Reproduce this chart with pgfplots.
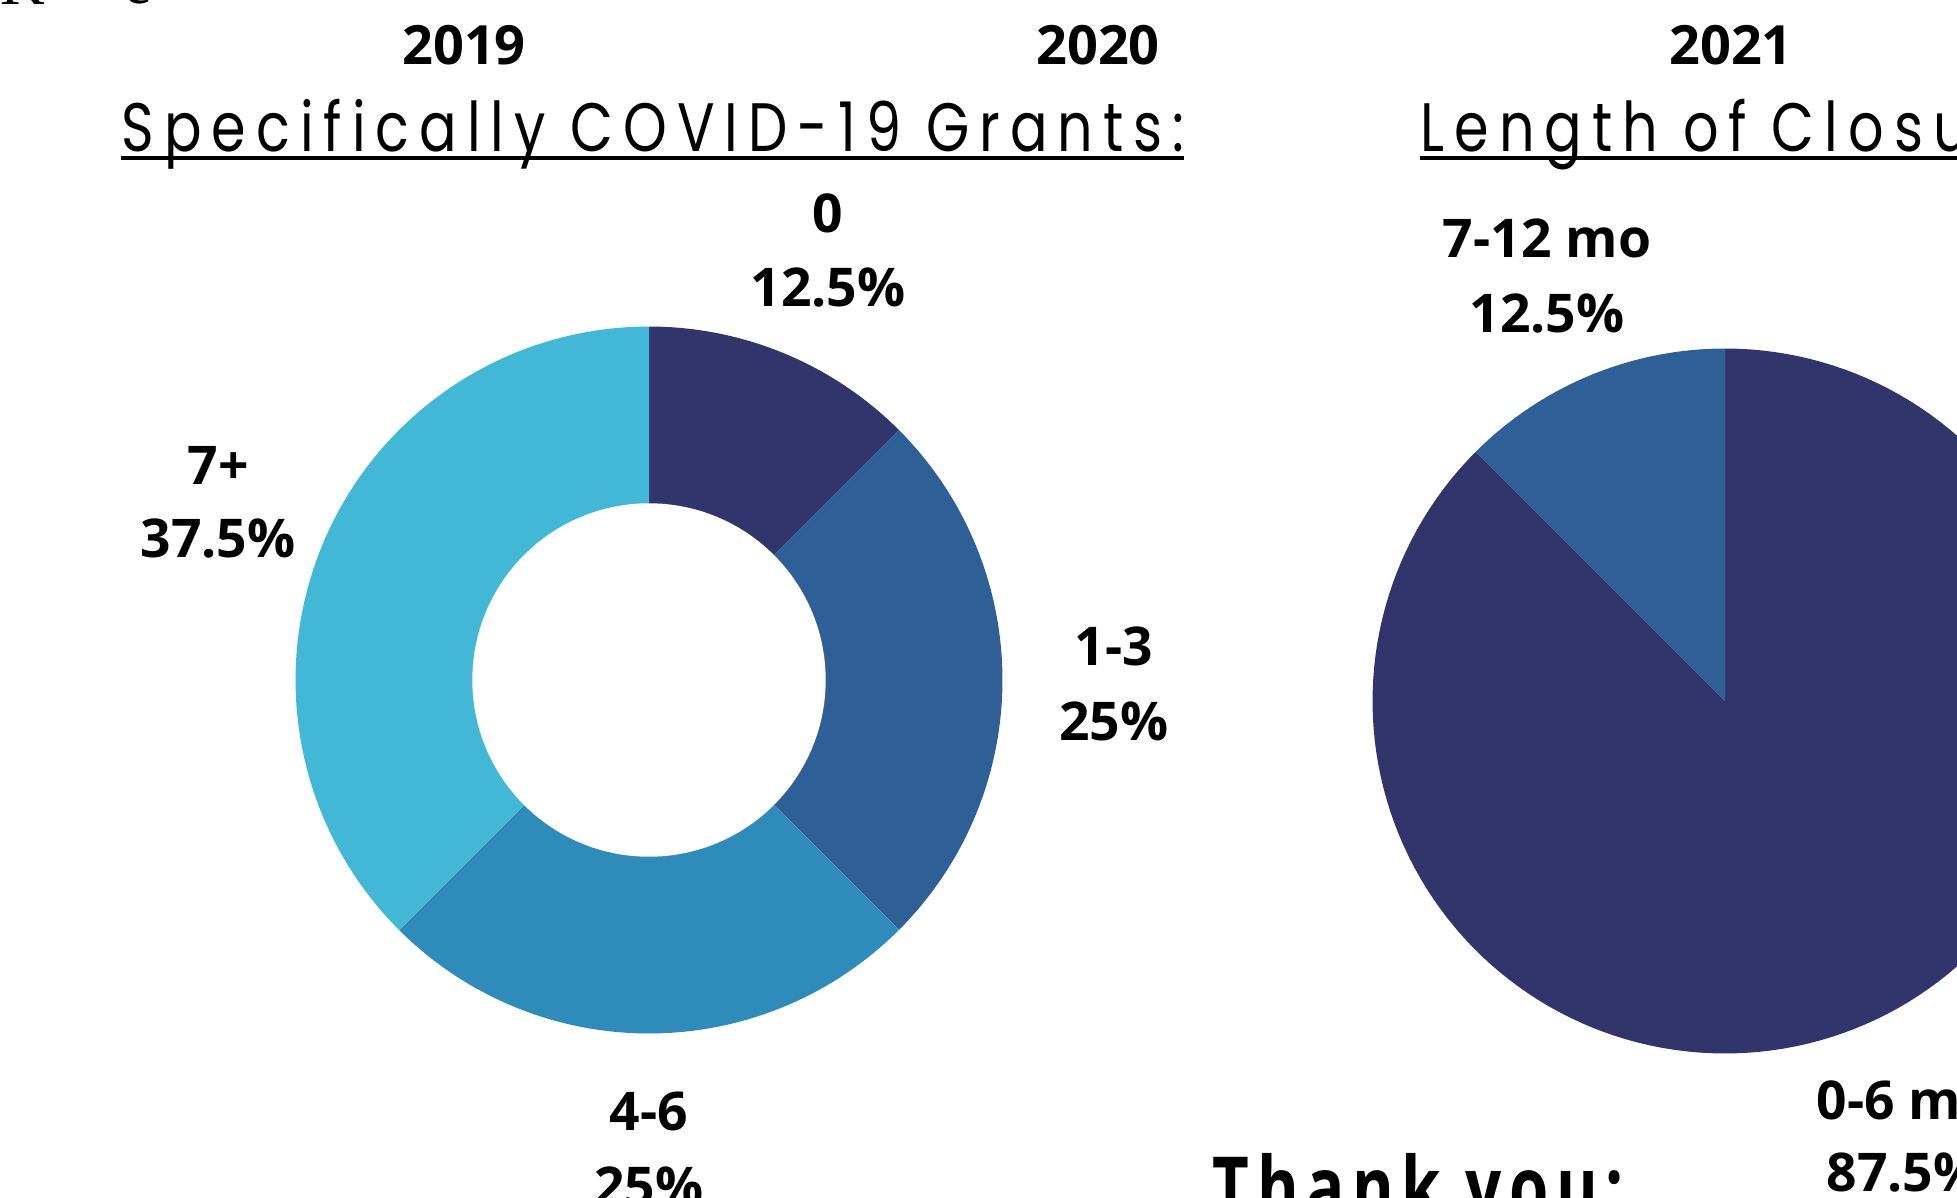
\documentclass[border=0pt]{standalone}
\usepackage{pgfplots}
\pgfplotsset{compat=1.18}
\usepackage{graphicx}
\usepackage{fontspec}
\setmainfont{Open Sans}
\newfontfamily\titlefont{Poppins}[LetterSpace=18]
\newfontfamily\thankfont{Open Sans}[LetterSpace=12]
\newfontfamily\seriffont{Liberation Serif}
\definecolor{navy}{HTML}{31356B}
\definecolor{midblue}{HTML}{2F5F97}
\definecolor{seablue}{HTML}{2E8BBA}
\definecolor{sky}{HTML}{42B7D6}
\newlength\tw
\newcommand\lab{\bfseries\fontsize{15.2pt}{18pt}\selectfont}
\newcommand\yr{\bfseries\fontsize{15.4pt}{18pt}\selectfont}
\newcommand\ttl{\titlefont\fontsize{19.5pt}{22pt}\selectfont}
\begin{document}%
\settowidth\tw{\ttl Specifically COVID-19 Grants:}%
\pgfmathsetmacro\tsc{302.4/\tw}%
\begin{tikzpicture}
\useasboundingbox (0,0) rectangle (195.7mm,119.7mm);
% Donut: Specifically COVID-19 Grants (0: 12.5, 1-3: 25, 4-6: 25, 7+: 37.5)
\begin{axis}[at={(64.9mm,51.7mm)}, anchor=center, width=70.7mm, height=70.7mm,
  scale only axis, hide axis, xmin=-1, xmax=1, ymin=-1, ymax=1, clip=false]
\addplot[fill=navy, draw=none, domain=45:90, samples=40] ({cos(x)},{sin(x)}) -- (axis cs:0,0) -- cycle;
\addplot[fill=midblue, draw=none, domain=-45:45, samples=60] ({cos(x)},{sin(x)}) -- (axis cs:0,0) -- cycle;
\addplot[fill=seablue, draw=none, domain=-135:-45, samples=60] ({cos(x)},{sin(x)}) -- (axis cs:0,0) -- cycle;
\addplot[fill=sky, draw=none, domain=90:225, samples=80] ({cos(x)},{sin(x)}) -- (axis cs:0,0) -- cycle;
\addplot[fill=white, draw=none, domain=0:360, samples=140] ({0.5*cos(x)},{0.5*sin(x)}) -- cycle;
\end{axis}
% Pie: Length of Closure (0-6 mo: 87.5, 7-12 mo: 12.5)
\begin{axis}[at={(172.5mm,49.6mm)}, anchor=center, width=70.5mm, height=70.5mm,
  scale only axis, hide axis, xmin=-1, xmax=1, ymin=-1, ymax=1, clip=false]
\addplot[fill=navy, draw=none, domain=135:450, samples=160] ({cos(x)},{sin(x)}) -- (axis cs:0,0) -- cycle;
\addplot[fill=midblue, draw=none, domain=90:135, samples=40] ({cos(x)},{sin(x)}) -- (axis cs:0,0) -- cycle;
\end{axis}
\begin{scope}[x=0.1mm,y=0.1mm]
% top-left fragments
\node[anchor=base west, inner sep=0] at (0,1192) {\seriffont\fontsize{17.6pt}{20pt}\selectfont K};
\node[anchor=base west, inner sep=0] at (124,1193) {\seriffont\fontsize{17.6pt}{20pt}\selectfont e};
% years
\node[anchor=base, inner sep=0] at (464,1132) {\yr 2019};
\node[anchor=base, inner sep=0] at (1098,1132) {\yr 2020};
\node[anchor=base, inner sep=0] at (1731,1132) {\yr 2021};
% titles
\draw[line width=0.42mm] (121,1039) -- (1184,1039);
\draw[line width=0.42mm] (1420,1039) -- (1970,1039);
\node[anchor=base west, inner sep=0] at (121,1045) {\scalebox{\tsc}[1]{\ttl Specifically COVID-19 Grants:}};
\node[anchor=base west, inner sep=0] at (1420,1045) {\scalebox{\tsc}[1]{\ttl Length of Closure:}};
% donut labels
\node[anchor=base, inner sep=0] at (828,964) {\lab 0};
\node[anchor=base, inner sep=0] at (828,890) {\lab 12.5\%};
\node[anchor=base, inner sep=0] at (1114,531) {\lab 1-3};
\node[anchor=base, inner sep=0] at (1114,456) {\lab 25\%};
\node[anchor=base, inner sep=0] at (649,67) {\lab 4-6};
\node[anchor=base, inner sep=0] at (649,-8) {\lab 25\%};
\node[anchor=base, inner sep=0] at (218,712) {\lab 7+};
\node[anchor=base, inner sep=0] at (218,639) {\lab 37.5\%};
% pie labels
\node[anchor=base, inner sep=0] at (1547,939) {\lab 7-12 mo};
\node[anchor=base, inner sep=0] at (1547,864) {\lab 12.5\%};
\node[anchor=base west, inner sep=0] at (1816,78) {\lab 0-6 mo};
\node[anchor=base west, inner sep=0] at (1826,6) {\lab 87.5\%};
% thank you
\node[anchor=base west, inner sep=0] at (1212,-20) {\resizebox{41.1mm}{\height}{\thankfont\bfseries\fontsize{24pt}{28pt}\selectfont Thank you:}};
\end{scope}
\end{tikzpicture}%
\end{document}
